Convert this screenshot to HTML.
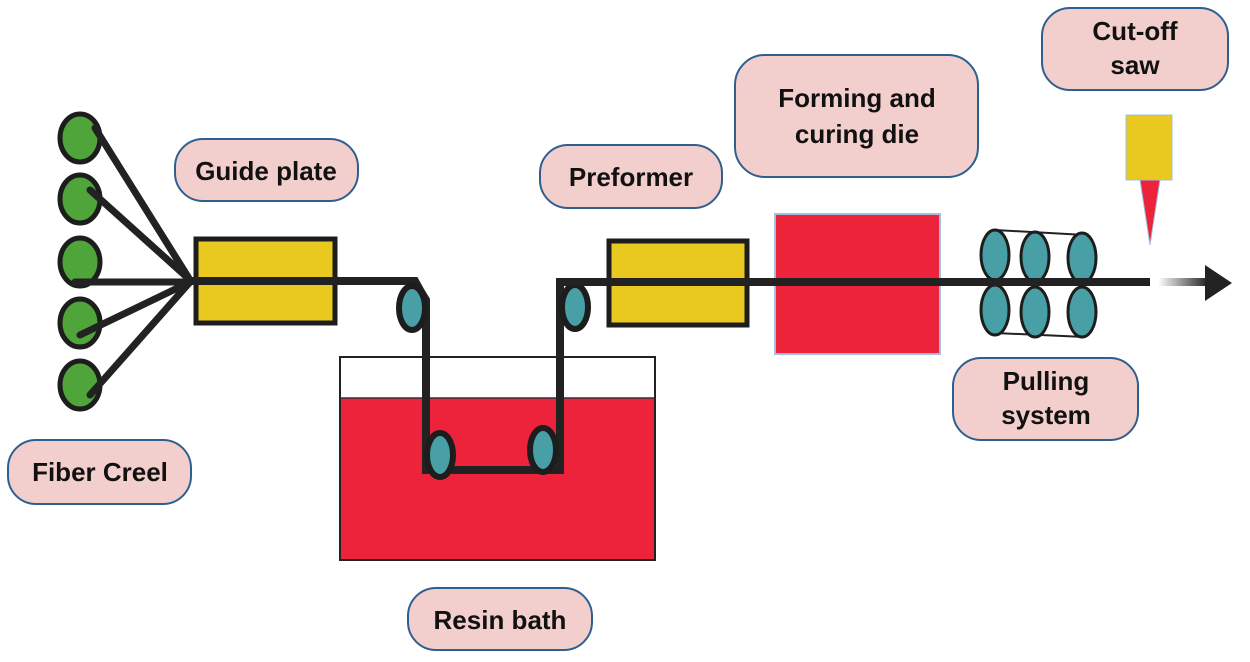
<!DOCTYPE html>
<html><head><meta charset="utf-8"><style>
html,body{margin:0;padding:0;background:#fff}
svg{display:block}
text{font-family:"Liberation Sans",sans-serif;font-weight:bold;font-size:26px;fill:#111}
</style></head><body>
<svg width="1250" height="662" viewBox="0 0 1250 662">
<defs>
<linearGradient id="g" x1="0" x2="1"><stop offset="0" stop-color="#222" stop-opacity="0"/><stop offset="1" stop-color="#222"/></linearGradient>
</defs>
<g fill="#f2cfcd" stroke="#2f5f8f" stroke-width="2">
<rect x="175" y="139" width="183" height="62" rx="28"/>
<rect x="8" y="440" width="183" height="64" rx="28"/>
<rect x="540" y="145" width="182" height="63" rx="28"/>
<rect x="735" y="55" width="243" height="122" rx="30"/>
<rect x="1042" y="8" width="186" height="82" rx="28"/>
<rect x="953" y="358" width="185" height="82" rx="28"/>
<rect x="408" y="588" width="184" height="62" rx="28"/>
</g>
<text x="266" y="180" text-anchor="middle">Guide plate</text>
<text x="100" y="481" text-anchor="middle">Fiber Creel</text>
<text x="631" y="186" text-anchor="middle">Preformer</text>
<text x="857" y="107" text-anchor="middle">Forming and</text>
<text x="857" y="143" text-anchor="middle">curing die</text>
<text x="1135" y="40" text-anchor="middle">Cut-off</text>
<text x="1135" y="74" text-anchor="middle">saw</text>
<text x="1046" y="390" text-anchor="middle">Pulling</text>
<text x="1046" y="424" text-anchor="middle">system</text>
<text x="500" y="629" text-anchor="middle">Resin bath</text>
<rect x="340" y="357" width="315" height="203" fill="#fff" stroke="#222" stroke-width="2"/>
<rect x="341" y="398" width="313" height="161" fill="#ec233a"/>
<line x1="340" y1="398" x2="655" y2="398" stroke="#333" stroke-width="1.5"/>
<g fill="#4fa43a" stroke="#1d1d1d" stroke-width="5">
<ellipse cx="80" cy="138" rx="20" ry="24"/>
<ellipse cx="80" cy="199" rx="20" ry="24"/>
<ellipse cx="80" cy="262" rx="20" ry="24"/>
<ellipse cx="80" cy="323" rx="20" ry="24"/>
<ellipse cx="80" cy="385" rx="20" ry="24"/>
</g>
<g stroke="#222" stroke-width="7" stroke-linecap="round">
<line x1="95" y1="128" x2="190" y2="280"/>
<line x1="90" y1="190" x2="190" y2="280"/>
<line x1="75" y1="282" x2="190" y2="282"/>
<line x1="80" y1="335" x2="190" y2="282"/>
<line x1="90" y1="395" x2="190" y2="282"/>
</g>
<rect x="196" y="239" width="139" height="84" fill="#e9c820" stroke="#1d1d1d" stroke-width="5"/>
<rect x="609" y="241" width="138" height="84" fill="#e9c820" stroke="#1d1d1d" stroke-width="5"/>
<rect x="775" y="214" width="165" height="140" fill="#ec233a" stroke="#9fc0e0" stroke-width="2"/>
<g fill="none" stroke="#222" stroke-width="8">
<polyline points="185,281 415,281 420,290 426,300 426,470 560,470 560,282 1150,282"/>
</g>
<g fill="#48a0a6" stroke="#1d1d1d" stroke-width="6">
<ellipse cx="412" cy="308" rx="13" ry="22"/>
<ellipse cx="440" cy="455" rx="13" ry="22"/>
<ellipse cx="543" cy="450" rx="13" ry="22"/>
<ellipse cx="575" cy="307" rx="13" ry="22"/>
</g>
<g stroke="#222" stroke-width="2"><line x1="995" y1="230" x2="1085" y2="235"/><line x1="995" y1="333" x2="1085" y2="337"/></g>
<g fill="#48a0a6" stroke="#1d1d1d" stroke-width="3">
<ellipse cx="995" cy="255" rx="14" ry="25"/><ellipse cx="1035" cy="257" rx="14" ry="25"/><ellipse cx="1082" cy="258" rx="14" ry="25"/>
<ellipse cx="995" cy="310" rx="14" ry="25"/><ellipse cx="1035" cy="312" rx="14" ry="25"/><ellipse cx="1082" cy="312" rx="14" ry="25"/>
</g>
<line x1="560" y1="282" x2="1150" y2="282" stroke="#222" stroke-width="8"/>
<rect x="1158" y="278" width="50" height="8" fill="url(#g)"/>
<polygon points="1205,265 1232,283 1205,301" fill="#222"/>
<rect x="1126" y="115" width="46" height="65" fill="#e9c820" stroke="#9fc0e0" stroke-width="1"/>
<polygon points="1140,180 1160,180 1150,245" fill="#ec233a" stroke="#9fc0e0" stroke-width="1"/>
</svg>
</body></html>
